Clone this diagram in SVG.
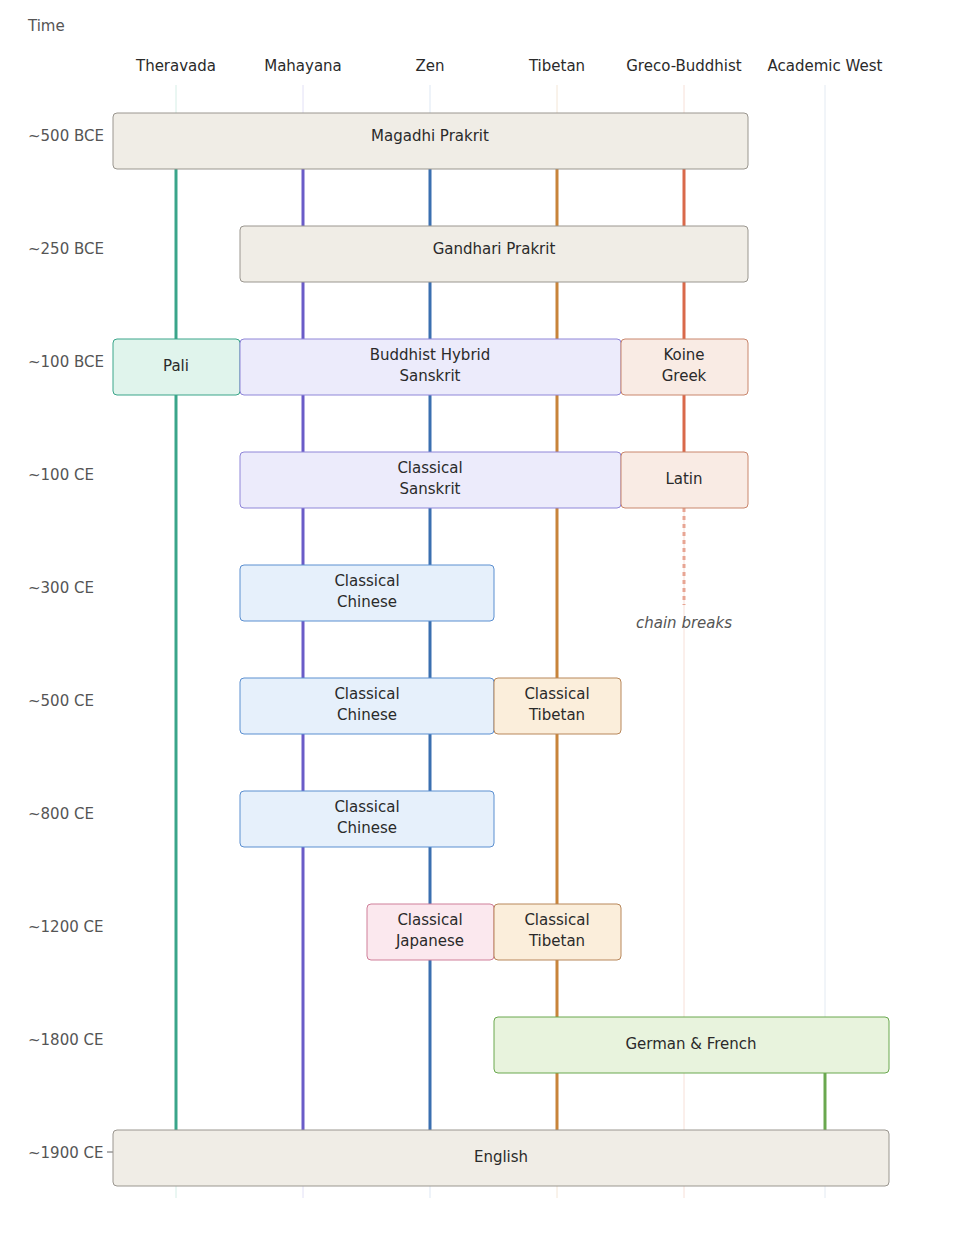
<svg xmlns="http://www.w3.org/2000/svg" width="960" height="1242" viewBox="0 0 960 1242">
<style>
text{font-family:"DejaVu Sans","Liberation Sans",sans-serif;font-size:15px;fill:#2a2a2a}
.t{fill:#555;text-anchor:start}
.h{text-anchor:middle}
.c{text-anchor:middle}
.g{stroke-width:1;fill:none}
.n rect{stroke-width:1}
.gray rect{fill:#f0ede6;stroke:#9a968f}
.pali rect{fill:#e0f4ec;stroke:#3aa58a}
.pur rect{fill:#ecebfb;stroke:#8f86d8}
.red rect{fill:#f9ebe4;stroke:#c9866d}
.blue rect{fill:#e6f0fb;stroke:#5b8fd0}
.org rect{fill:#fbeedb;stroke:#b8875a}
.pink rect{fill:#fbe8ee;stroke:#cf7f99}
.grn rect{fill:#e8f3dd;stroke:#6aa84f}
.e line{stroke-width:3}
</style>
<text x="28" y="31" class="t">Time</text>
<g class="h">
<text x="176" y="71" class="h">Theravada</text>
<text x="303" y="71" class="h">Mahayana</text>
<text x="430" y="71" class="h">Zen</text>
<text x="557" y="71" class="h">Tibetan</text>
<text x="684" y="71" class="h">Greco-Buddhist</text>
<text x="825" y="71" class="h">Academic West</text>
</g>
<g class="g">
<line x1="176" y1="85" x2="176" y2="1198" stroke="#d5eee6"/>
<line x1="303" y1="85" x2="303" y2="1198" stroke="#e2e0f6"/>
<line x1="430" y1="85" x2="430" y2="1198" stroke="#dde7f3"/>
<line x1="557" y1="85" x2="557" y2="1198" stroke="#f3e6d6"/>
<line x1="684" y1="85" x2="684" y2="1198" stroke="#f7e0d8"/>
<line x1="825" y1="85" x2="825" y2="1198" stroke="#e3eaf2"/>
</g>
<g>
<text x="28" y="141" class="t">~500 BCE</text>
<text x="28" y="254" class="t">~250 BCE</text>
<text x="28" y="367" class="t">~100 BCE</text>
<text x="28" y="480" class="t">~100 CE</text>
<text x="28" y="593" class="t">~300 CE</text>
<text x="28" y="706" class="t">~500 CE</text>
<text x="28" y="819" class="t">~800 CE</text>
<text x="28" y="932" class="t">~1200 CE</text>
<text x="28" y="1045" class="t">~1800 CE</text>
<text x="28" y="1158" class="t">~1900 CE</text>
<line x1="107" y1="1152" x2="113" y2="1152" stroke="#666" stroke-width="1"/>
</g>
<g id="connectors" class="e">
<g stroke="#3aa58a"><line x1="176" y1="169" x2="176" y2="339"/><line x1="176" y1="395" x2="176" y2="1130"/></g>
<g stroke="#6a5cc8"><line x1="303" y1="169" x2="303" y2="1130"/></g>
<g stroke="#3a6fb0"><line x1="430" y1="169" x2="430" y2="1130"/></g>
<g stroke="#c8843a"><line x1="557" y1="169" x2="557" y2="1130"/></g>
<g stroke="#d9694a"><line x1="684" y1="169" x2="684" y2="452"/></g>
<line x1="684" y1="508" x2="684" y2="605" stroke="#e8a593" stroke-dasharray="4 4"/>
<g stroke="#6aa84f"><line x1="825" y1="1073" x2="825" y2="1130"/></g>
</g>
<text x="684" y="628" class="c" style="font-style:italic;fill:#555">chain breaks</text>
<g id="magadhi" class="n gray"><rect x="113" y="113" width="635" height="56" rx="4"/><text x="430" y="141" class="c">Magadhi Prakrit</text></g>
<g id="gandhari" class="n gray"><rect x="240" y="226" width="508" height="56" rx="4"/><text x="494" y="254" class="c">Gandhari Prakrit</text></g>
<g id="pali" class="n pali"><rect x="113" y="339" width="127" height="56" rx="4"/><text x="176" y="371" class="c">Pali</text></g>
<g id="bhs" class="n pur"><rect x="240" y="339" width="381" height="56" rx="4"/><text x="430" y="360" class="c">Buddhist Hybrid</text><text x="430" y="381" class="c">Sanskrit</text></g>
<g id="koine" class="n red"><rect x="621" y="339" width="127" height="56" rx="4"/><text x="684" y="360" class="c">Koine</text><text x="684" y="381" class="c">Greek</text></g>
<g id="sanskrit" class="n pur"><rect x="240" y="452" width="381" height="56" rx="4"/><text x="430" y="473" class="c">Classical</text><text x="430" y="494" class="c">Sanskrit</text></g>
<g id="latin" class="n red"><rect x="621" y="452" width="127" height="56" rx="4"/><text x="684" y="484" class="c">Latin</text></g>
<g id="chinese1" class="n blue"><rect x="240" y="565" width="254" height="56" rx="4"/><text x="367" y="586" class="c">Classical</text><text x="367" y="607" class="c">Chinese</text></g>
<g id="chinese2" class="n blue"><rect x="240" y="678" width="254" height="56" rx="4"/><text x="367" y="699" class="c">Classical</text><text x="367" y="720" class="c">Chinese</text></g>
<g id="tibetan1" class="n org"><rect x="494" y="678" width="127" height="56" rx="4"/><text x="557" y="699" class="c">Classical</text><text x="557" y="720" class="c">Tibetan</text></g>
<g id="chinese3" class="n blue"><rect x="240" y="791" width="254" height="56" rx="4"/><text x="367" y="812" class="c">Classical</text><text x="367" y="833" class="c">Chinese</text></g>
<g id="japanese" class="n pink"><rect x="367" y="904" width="127" height="56" rx="4"/><text x="430" y="925" class="c">Classical</text><text x="430" y="946" class="c">Japanese</text></g>
<g id="tibetan2" class="n org"><rect x="494" y="904" width="127" height="56" rx="4"/><text x="557" y="925" class="c">Classical</text><text x="557" y="946" class="c">Tibetan</text></g>
<g id="german" class="n grn"><rect x="494" y="1017" width="395" height="56" rx="4"/><text x="691" y="1049" class="c">German &amp; French</text></g>
<g id="english" class="n gray"><rect x="113" y="1130" width="776" height="56" rx="4"/><text x="501" y="1162" class="c">English</text></g>
</svg>
